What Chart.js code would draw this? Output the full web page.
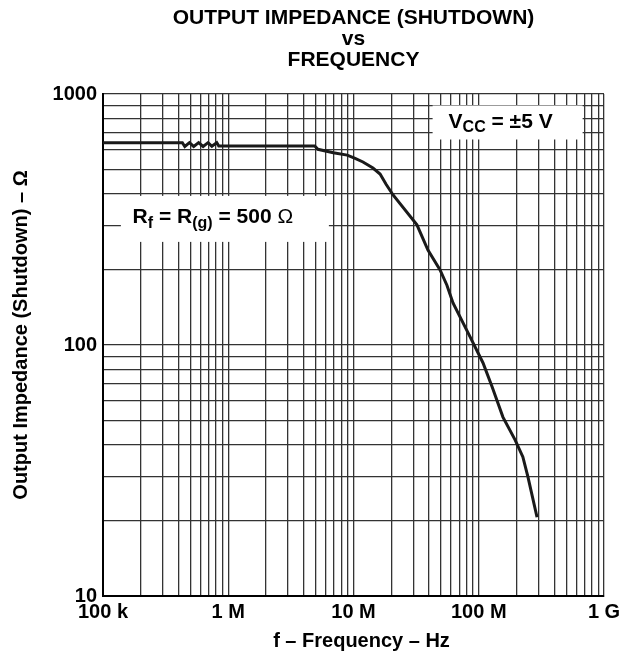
<!DOCTYPE html>
<html>
<head>
<meta charset="utf-8">
<script src="https://cdn.jsdelivr.net/npm/chart.js@4"></script>
<style>
  html, body { margin: 0; padding: 0; background: #fff; }
  #wrap { width: 629px; height: 662px; }
</style>
</head>
<body>
<div id="wrap"><canvas id="impChart" width="629" height="662"></canvas></div>
<script>
// frequency (Hz) and output impedance (ohm)
const freqHz = [1e5, 2e5, 3e5, 4.3e5, 4.5e5, 4.9e5, 5.3e5, 5.8e5, 6.3e5, 6.9e5, 7.4e5, 8.1e5, 8.4e5,
  1e6, 2e6, 4.9e6, 5.2e6, 6.9e6, 8.9e6, 10.3e6, 11.9e6, 14.3e6, 16.3e6, 18.2e6, 20.7e6, 32.1e6, 39.3e6,
  49.1e6, 55.7e6, 62.3e6, 85.1e6, 108e6, 128e6, 156e6, 195e6, 225e6, 247e6, 292e6];
const impedance = [640, 640, 640, 640, 618, 640, 618, 640, 618, 640, 619, 640, 621,
  621, 621, 621, 602, 583, 571, 554, 536, 507, 480, 437, 396, 301, 239,
  199, 173, 147, 108, 85, 68, 51.6, 41.9, 35.8, 29.8, 20.6];

const xGrid = [1e5, 2e5, 3e5, 4e5, 5e5, 6e5, 7e5, 8e5, 9e5, 1e6, 2e6, 3e6, 4e6, 5e6, 6e6, 7e6, 8e6, 9e6,
  1e7, 2e7, 3e7, 4e7, 5e7, 6e7, 7e7, 8e7, 9e7, 1e8, 2e8, 3e8, 4e8, 5e8, 6e8, 7e8, 8e8, 9e8, 1e9];
const yGrid = [10, 20, 30, 40, 50, 60, 70, 80, 90, 100, 200, 300, 400, 500, 600, 700, 800, 900, 1000];
const xTickValues = [1e5, 1e6, 1e7, 1e8, 1e9];
const xTickLabels = ['100 k', '1 M', '10 M', '100 M', '1 G'];
const yTickValues = [10, 100, 1000];
const yTickLabels = ['10', '100', '1000'];

const titleLines = ['OUTPUT IMPEDANCE (SHUTDOWN)', 'vs', 'FREQUENCY'];
const xTitle = 'f \u2013 Frequency \u2013 Hz';
const yTitle = 'Output Impedance (Shutdown) \u2013 \u03A9';
const FONT = '"Liberation Sans", Arial, sans-serif';

// draws the titles and the two boxed notes
const notesPlugin = {
  id: 'notes',
  afterDraw(chart) {
    const ctx = chart.ctx;
    const area = chart.chartArea;
    const xs = chart.scales.x, ys = chart.scales.y;
    const cx = (area.left + area.right) / 2;
    ctx.save();
    ctx.fillStyle = '#000';
    ctx.textAlign = 'center';
    ctx.textBaseline = 'middle';
    ctx.font = 'bold 21px ' + FONT;
    ctx.fillText(titleLines[0], cx, 18);
    ctx.fillText(titleLines[1], cx, 39);
    ctx.fillText(titleLines[2], cx, 60);

    ctx.font = 'bold 20px ' + FONT;
    ctx.fillText(xTitle, cx + 8, 641);
    ctx.save();
    ctx.translate(21, 335);
    ctx.rotate(-Math.PI / 2);
    ctx.fillText(yTitle, 0, 0);
    ctx.restore();

    function parts(list, x, y) {
      // list of [text, font, dy]
      let w = 0;
      list.forEach(p => { ctx.font = p[1]; w += ctx.measureText(p[0]).width; });
      let px = x - w / 2;
      ctx.textAlign = 'left';
      ctx.textBaseline = 'alphabetic';
      list.forEach(p => {
        ctx.font = p[1];
        ctx.fillText(p[0], px, y + p[2]);
        px += ctx.measureText(p[0]).width;
      });
    }

    const big = 'bold 21px ' + FONT, sub = 'bold 16px ' + FONT;

    // V_CC box, anchored in data space
    let bx = xs.getPixelForValue(1.7e8), by = ys.getPixelForValue(770);
    ctx.fillStyle = '#fff';
    ctx.fillRect(bx - 75, by - 17, 150, 34);
    ctx.fillStyle = '#000';
    parts([['V', big, 0], ['CC', sub, 4], [' = \u00B15 V', big, 0]], bx - 7, by + 6);

    // R_f box
    bx = xs.getPixelForValue(9.4e5); by = ys.getPixelForValue(318);
    ctx.fillStyle = '#fff';
    ctx.fillRect(bx - 104, by - 23, 208, 46);
    ctx.fillStyle = '#000';
    parts([['R', big, 0], ['f', sub, 5], [' = R', big, 0], ['(g)', sub, 5], [' = 500 ', big, 0],
      ['\u03A9', '21px ' + FONT, 0]], bx - 12, by + 4);
    ctx.restore();
  }
};

new Chart(document.getElementById('impChart').getContext('2d'), {
  type: 'scatter',
  data: {
    datasets: [{
      data: freqHz.map((f, i) => ({ x: f, y: impedance[i] })),
      showLine: true,
      borderColor: '#1a1a1a',
      borderWidth: 3,
      pointRadius: 0,
      tension: 0
    }]
  },
  options: {
    responsive: false,
    animation: false,
    layout: { padding: { top: 94, right: 25, left: 0, bottom: 0 } },
    plugins: { legend: { display: false }, title: { display: false }, tooltip: { enabled: false } },
    scales: {
      x: {
        type: 'logarithmic',
        min: 1e5, max: 1e9,
        afterBuildTicks: s => { s.ticks = xGrid.map(v => ({ value: v })); },
        afterFit: s => { s.height = 66; },
        grid: { color: '#333', lineWidth: 1.3, drawTicks: false },
        border: { color: '#000', width: 2 },
        ticks: {
          autoSkip: false, maxRotation: 0, padding: 4, color: '#000',
          font: { family: FONT, size: 20, weight: 'bold' },
          callback: v => { const i = xTickValues.indexOf(v); return i < 0 ? '' : xTickLabels[i]; }
        }
      },
      y: {
        type: 'logarithmic',
        min: 10, max: 1000,
        afterBuildTicks: s => { s.ticks = yGrid.map(v => ({ value: v })); },
        afterFit: s => { s.width = 103; },
        grid: { color: '#333', lineWidth: 1.3, drawTicks: false },
        border: { color: '#000', width: 2 },
        ticks: {
          autoSkip: false, padding: 6, color: '#000',
          font: { family: FONT, size: 20, weight: 'bold' },
          callback: v => { const i = yTickValues.indexOf(v); return i < 0 ? '' : yTickLabels[i]; }
        }
      }
    }
  },
  plugins: [notesPlugin]
});
</script>
</body>
</html>
